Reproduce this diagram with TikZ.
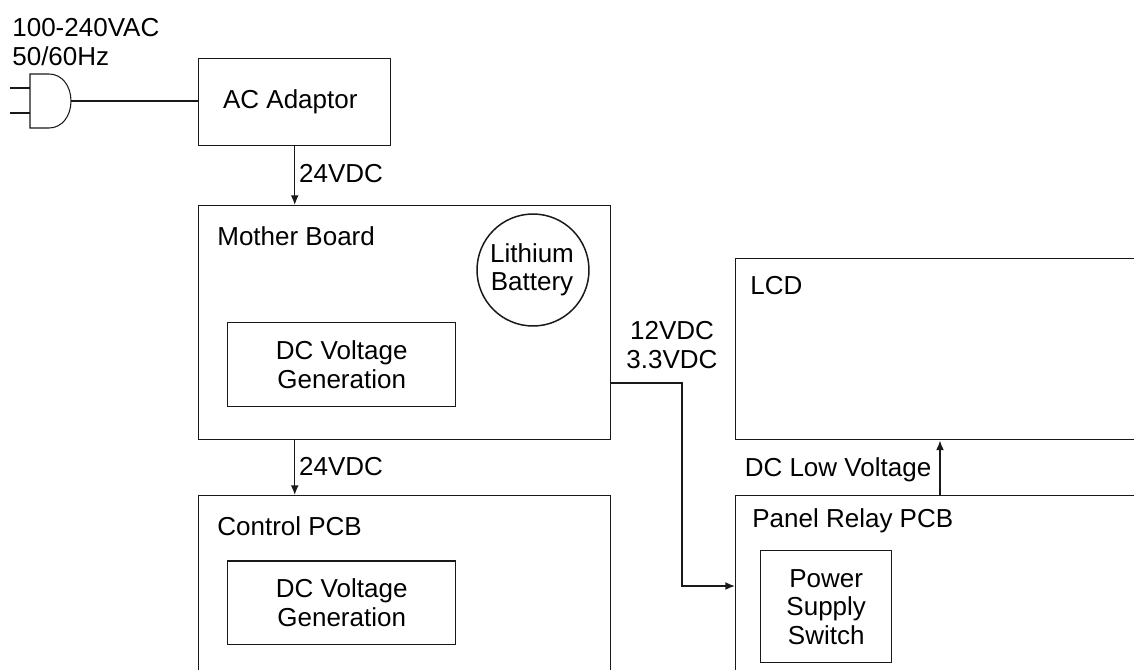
\documentclass[tikz,border=0pt]{standalone}
\usepackage{fontspec}
\setmainfont{Liberation Sans}
\usetikzlibrary{positioning,arrows.meta}

\begin{document}
\begin{tikzpicture}[
  x=0.02cm,y=-0.02cm,
  >={Latex[length=5.5pt,width=4.5pt]},
  every node/.style={font=\fontsize{14.8}{16.2}\selectfont,align=center,inner sep=0pt},
  block/.style={draw=black!90,line width=0.85pt,anchor=north west},
  tag/.style={anchor=west},
  wire/.style={draw=black!90,line width=0.85pt},
  thinwire/.style={draw=black!90,line width=0.6pt}
]
\useasboundingbox (0,0) rectangle (1134,670);
\clip (0,0) rectangle (1134,670);

% supply
\node[tag,align=left] at (12,42) {100-240VAC\\50/60Hz};
\node[block,minimum width=3.84cm,minimum height=1.74cm] (adaptor) at (198,58) {AC Adaptor\hspace{5pt}};
\path[thinwire] (30,74) -- (49,74)
  .. controls (62,74) and (71,86) .. (71,101)
  .. controls (71,116) and (62,128) .. (49,128)
  -- (30,128) -- cycle;
\draw[thinwire] (10,88) -- (30,88);
\draw[thinwire] (10,113) -- (30,113);
\coordinate (plugtip) at (71,101);
\draw[thinwire] (plugtip) -- (plugtip -| adaptor.west);

% mother board
\node[block,minimum width=8.24cm,minimum height=4.68cm] (mother) at (198,205) {};
\node[tag] at (217,236) {Mother Board};
\node[draw=black!90,line width=0.85pt,circle,minimum size=2.24cm] (battery) at (533,270) {};
\node at (532,270) {Lithium\\Battery};
\node[block,minimum width=4.56cm,minimum height=1.68cm] (dcgenA) at (227,322) {DC Voltage\\Generation};

% control pcb
\node[block,minimum width=8.24cm,minimum height=4cm] (control) at (198,495) {};
\node[tag] at (217,526) {Control PCB};
\node[block,minimum width=4.56cm,minimum height=1.68cm] (dcgenB) at (227,560) {DC Voltage\\Generation};

% lcd and relay
\node[block,minimum width=9cm,minimum height=3.62cm] (lcd) at (735,258) {};
\node[tag] at (750,286) {LCD};
\node[block,minimum width=9cm,minimum height=4cm] (relay) at (735,495) {};
\node[tag] at (752,521) {Panel Relay PCB};
\node[block,minimum width=2.62cm,minimum height=2.24cm] (switch) at (760,550) {Power\\Supply\\Switch};

% connections
\draw[wire,->] (adaptor.south) -- (adaptor.south |- mother.north);
\node at (341,174) {24VDC};
\draw[wire,->] (adaptor.south |- mother.south) -- (adaptor.south |- control.north);
\node at (341,467) {24VDC};

\coordinate (wirebend) at (682,383);
\coordinate (wirein) at (682,586);
\draw[wire,->] (wirebend -| mother.east) -- (wirebend) -- (wirein) -- (wirein -| relay.west);
\node at (672,345) {12VDC\\3.3VDC};

\coordinate (lcdfeed) at (940,470);
\draw[wire,->] (lcdfeed |- relay.north) -- (lcdfeed |- lcd.south);
\node at (838,470) {DC Low Voltage};
\end{tikzpicture}
\end{document}
